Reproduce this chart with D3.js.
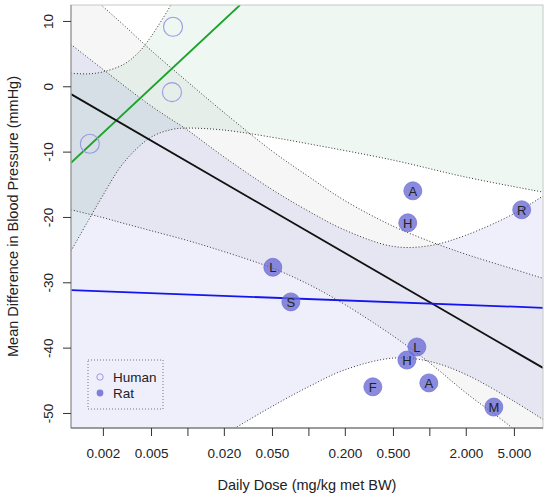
<!DOCTYPE html>
<html>
<head>
<meta charset="utf-8">
<script src="https://cdn.jsdelivr.net/npm/d3@7"></script>
<style>
  body { margin: 0; background: #fff; }
  svg text { font-family: "Liberation Sans", Arial, sans-serif; fill: #222; }
</style>
</head>
<body>
<div id="chart"></div>
<script>
// axis ticks
const xTicks = [0.002, 0.005, 0.01, 0.02, 0.05, 0.1, 0.2, 0.5, 1, 2, 5];
const xTickLabels = ['0.002', '0.005', '', '0.020', '0.050', '', '0.200', '0.500', '', '2.000', '5.000'];
const yTicks = [10, 0, -10, -20, -30, -40, -50];
const xDomain = [0.00109, 8.7];
const yDomain = [-52.3, 12.44];

// studies
const humanDose = [0.00156, 0.00745, 0.0076];
const humanDiff = [-8.8, -0.9, 9.1];

const ratLabels = ['A', 'H', 'R', 'L', 'S', 'L', 'H', 'A', 'F', 'M'];
const ratDose = [0.73, 0.663, 5.8, 0.0508, 0.0716, 0.789, 0.652, 0.99, 0.341, 3.41];
const ratDiff = [-16.0, -20.9, -18.9, -27.7, -33.0, -39.9, -41.9, -45.4, -46.0, -49.1];

// fitted lines [dose, mmHg]
const allFit = [[0.00109, -1.2], [8.7, -43.1]];
const ratFit = [[0.00109, -31.2], [8.7, -33.9]];
const humanFit = [[0.00109, -11.7], [0.0272, 12.44]];

// confidence bands (dotted curves)
const humanUpper = [[0.00109, 2.0], [0.0015, 1.9], [0.002, 2.2], [0.003, 3.4], [0.004, 5.3], [0.005, 7.6], [0.0075, 12.8], [0.01, 17.0]];
const humanLower = [[0.00109, -25.2], [0.0015, -20.7], [0.002, -16.7], [0.003, -11.6], [0.005, -7.8], [0.0075, -6.6], [0.01, -6.4], [0.02, -6.7], [0.05, -7.8], [0.1, -8.8], [0.5, -11.3], [2, -13.9], [8.7, -16.2]];

const allUpper = [[0.00109, 16.5], [0.002, 12.2], [0.003, 9.3], [0.005, 5.5], [0.01, 0.7], [0.02, -4.0], [0.05, -9.9], [0.1, -13.8], [0.2, -17.5], [0.5, -21.4], [1, -23.7], [2, -25.7], [5, -28.0], [8.7, -29.4]];
const allLower = [[0.00109, -18.9], [0.002, -20.1], [0.003, -21.0], [0.005, -22.1], [0.01, -23.6], [0.02, -25.3], [0.05, -27.8], [0.1, -30.3], [0.2, -33.4], [0.5, -38.2], [1, -42.3], [2, -46.9], [5, -52.5], [8.7, -56.5]];

const ratUpper = [[0.00109, 6.4], [0.002, 2.6], [0.005, -3.0], [0.01, -6.7], [0.02, -10.8], [0.05, -15.8], [0.1, -19.1], [0.2, -22.0], [0.5, -24.5], [1, -24.4], [2, -22.8], [5, -19.5], [8.7, -16.8]];
const ratLower = [[0.02, -53.3], [0.03, -51.4], [0.05, -49.0], [0.1, -46.0], [0.2, -43.4], [0.5, -41.6], [1, -42.1], [2, -44.1], [5, -48.2], [8.7, -51.0]];

const margin = { top: 5, right: 7, bottom: 71, left: 71 };
const width = 550 - margin.left - margin.right;
const height = 499 - margin.top - margin.bottom;

const svg = d3.select('#chart')
  .append('svg')
  .attr('width', 550)
  .attr('height', 499);

const g = svg.append('g')
  .attr('transform', `translate(${margin.left},${margin.top})`);

const x = d3.scaleLog().domain(xDomain).range([0, width]);
const y = d3.scaleLinear().domain(yDomain).range([height, 0]);

g.append('clipPath')
  .attr('id', 'plot-clip')
  .append('rect')
  .attr('width', width)
  .attr('height', height);

const plot = g.append('g').attr('clip-path', 'url(#plot-clip)');

const curveLine = d3.line()
  .x(d => x(d[0]))
  .y(d => y(d[1]))
  .curve(d3.curveCatmullRom);

// upper curve, optional corners, lower curve back to start
const bandPath = (upper, lower, midCorners, endCorners) => {
  const top = curveLine(upper);
  const bottom = curveLine(lower.slice().reverse());
  const toL = pts => pts.map(p => `L${x(p[0])},${y(p[1])}`).join('');
  return top + toL(midCorners) + 'L' + bottom.slice(1) + toL(endCorners) + 'Z';
};

plot.append('path')
  .attr('d', bandPath(humanUpper, humanLower, [[xDomain[1], yDomain[1]]], []))
  .attr('fill', 'rgba(0,140,40,0.065)');

plot.append('path')
  .attr('d', bandPath(allUpper, allLower, [], []))
  .attr('fill', 'rgba(0,0,0,0.035)');

plot.append('path')
  .attr('d', bandPath(ratUpper, ratLower, [], [[xDomain[0], yDomain[0]]]))
  .attr('fill', 'rgba(40,40,220,0.075)');

[humanUpper, humanLower, allUpper, allLower, ratUpper, ratLower].forEach(b => {
  plot.append('path')
    .attr('d', curveLine(b))
    .attr('fill', 'none')
    .attr('stroke', '#333')
    .attr('stroke-width', 1)
    .attr('stroke-dasharray', '1,2');
});

const straight = d3.line().x(d => x(d[0])).y(d => y(d[1]));

plot.append('path').attr('d', straight(humanFit))
  .attr('stroke', '#1aa32a').attr('stroke-width', 1.8).attr('fill', 'none');
plot.append('path').attr('d', straight(allFit))
  .attr('stroke', '#111').attr('stroke-width', 1.8).attr('fill', 'none');
plot.append('path').attr('d', straight(ratFit))
  .attr('stroke', '#1515f0').attr('stroke-width', 1.8).attr('fill', 'none');

// human studies: open circles
plot.selectAll('.human')
  .data(humanDose)
  .enter()
  .append('circle')
  .attr('class', 'human')
  .attr('cx', d => x(d))
  .attr('cy', (d, i) => y(humanDiff[i]))
  .attr('r', 9.5)
  .attr('fill', 'none')
  .attr('stroke', '#9a9ae4')
  .attr('stroke-width', 1.1);

// rat studies: filled circles with letters
plot.selectAll('.rat')
  .data(ratDose)
  .enter()
  .append('circle')
  .attr('class', 'rat')
  .attr('cx', d => x(d))
  .attr('cy', (d, i) => y(ratDiff[i]))
  .attr('r', 9)
  .attr('fill', 'rgba(100,100,210,0.75)')
  .attr('stroke', 'rgba(110,110,215,0.9)')
  .attr('stroke-width', 0.8);

plot.selectAll('.rat-label')
  .data(ratDose)
  .enter()
  .append('text')
  .attr('class', 'rat-label')
  .attr('x', d => x(d))
  .attr('y', (d, i) => y(ratDiff[i]) + 4.8)
  .attr('text-anchor', 'middle')
  .style('font-size', '13px')
  .text((d, i) => ratLabels[i]);

// frame
g.append('rect')
  .attr('width', width)
  .attr('height', height)
  .attr('fill', 'none')
  .attr('stroke', '#c8c8c8');
g.append('line').attr('x1', 0).attr('x2', 0).attr('y1', 0).attr('y2', height)
  .attr('stroke', '#888');
g.append('line').attr('x1', 0).attr('x2', width).attr('y1', height).attr('y2', height)
  .attr('stroke', '#555');

// axes
const yAxis = g.append('g')
  .call(d3.axisLeft(y).tickValues(yTicks).tickSize(8).tickFormat(d => String(d)));
yAxis.select('.domain').remove();
yAxis.selectAll('.tick line').attr('stroke', '#333');
yAxis.selectAll('.tick text')
  .attr('transform', 'rotate(-90)')
  .attr('x', 0)
  .attr('y', -18)
  .attr('dy', 0)
  .attr('text-anchor', 'middle')
  .style('font-size', '13.5px');

const xAxis = g.append('g')
  .attr('transform', `translate(0,${height})`)
  .call(d3.axisBottom(x).tickValues(xTicks).tickSize(8).tickFormat((d, i) => xTickLabels[i]));
xAxis.select('.domain').remove();
xAxis.selectAll('.tick line').attr('stroke', '#333');
xAxis.selectAll('.tick text')
  .attr('y', 20)
  .style('font-size', '13.5px');

svg.append('text')
  .attr('x', margin.left + width / 2)
  .attr('y', 490)
  .attr('text-anchor', 'middle')
  .style('font-size', '14.5px')
  .text('Daily Dose (mg/kg met BW)');

svg.append('text')
  .attr('transform', `translate(18,${margin.top + height / 2}) rotate(-90)`)
  .attr('text-anchor', 'middle')
  .style('font-size', '14.5px')
  .text('Mean Difference in Blood Pressure (mmHg)');

// legend
const legend = svg.append('g');
legend.append('rect')
  .attr('x', 88).attr('y', 360)
  .attr('width', 75).attr('height', 49)
  .attr('fill', 'none')
  .attr('stroke', '#777')
  .attr('stroke-dasharray', '1,2');
legend.append('circle')
  .attr('cx', 100).attr('cy', 377).attr('r', 3.2)
  .attr('fill', 'none').attr('stroke', '#9a9ae4').attr('stroke-width', 1);
legend.append('circle')
  .attr('cx', 100).attr('cy', 393).attr('r', 3.4)
  .attr('fill', 'rgba(100,100,210,0.8)');
legend.append('text').attr('x', 113).attr('y', 382).style('font-size', '13.5px').text('Human');
legend.append('text').attr('x', 113).attr('y', 398).style('font-size', '13.5px').text('Rat');
</script>
</body>
</html>
